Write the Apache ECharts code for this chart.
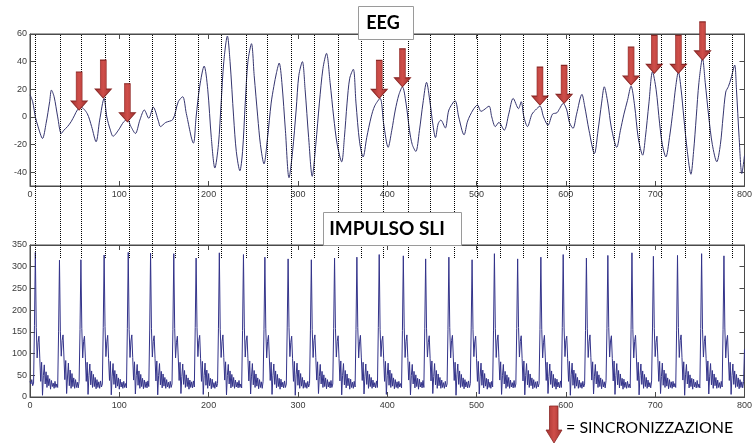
<!DOCTYPE html>
<html><head><meta charset="utf-8">
<script src="https://cdn.jsdelivr.net/npm/echarts@6/dist/echarts.min.js"></script>
<style>html,body{margin:0;padding:0;background:#fff}#c{width:755px;height:444px}</style>
</head><body><div id="c"></div>
<script>
// ---- DATA ----
const xTicks = [0, 100, 200, 300, 400, 500, 600, 700, 800];
const eegTicks = [-40, -20, 0, 20, 40, 60];
const impulseTicks = [0, 50, 100, 150, 200, 250, 300, 350];

// EEG trace [sample, amplitude]
const eegSamples = [[0,16],[3,11],[6,0],[9,-7],[14,-15.6],[18,-4.7],[22,11],[24,19.4],[27,14.6],[31,0],[35,-12],[38,-9.6],[42,-7],[46,-3.5],[50,1.3],[53,5],[57,7],[64,2.5],[69,-7],[74,-18],[78,-2.3],[83,13.4],[86,0],[90,-9.6],[93,-14],[99,-9.6],[105,-3.5],[109,-2],[113,-7],[118,-12],[123,-2.3],[128,5],[133,-1],[138,7],[144,-3.5],[146,-7],[152,-4],[160,-1.8],[166,11],[171,14.6],[175,2.5],[183,-19],[186,0],[190,22],[195,36.8],[199,20],[203,-15],[207,-37],[211,-20],[214,10],[217,40],[221,58.5],[224,40],[228,0],[231,-25],[235,-39],[238,-25],[241,10],[244,40],[248,53],[251,30],[255,0],[258,-20],[262,-34],[266,-15],[270,10],[273,22],[276,32],[279,39],[282,25],[286,-10],[290,-44],[294,-25],[298,5],[301,30],[305,40],[308,20],[312,-15],[316,-43],[320,-20],[324,10],[328,35],[332,46],[336,25],[340,0],[344,-20],[349,-32.5],[352,-15],[355,10],[358,28],[362,34.5],[365,10],[369,-18],[373,-29],[377,-15],[382,0],[386,8],[392,13.4],[396,-5],[401,-22],[405,-10],[409,5],[413,16],[417,21.8],[421,10],[425,-10],[428,-20],[432,-25],[436,-10],[440,10],[444,25],[448,10],[451,-5],[454,-15],[457,-5],[460,-2.3],[465,-8],[469,5],[476,11.7],[480,0],[486,-13],[490,-3],[496,5],[501,8.6],[505,4],[508,5],[514,7.8],[517,0],[521,-7],[525,-4],[531,-9.6],[536,2],[541,13.4],[547,6],[550,11],[553,0],[557,-7],[562,2],[566,5],[571,7.8],[575,0],[580,-6],[585,2],[590,3],[593,6],[597,9.8],[601,5],[604,-4],[608,-8.3],[612,2],[618,16.3],[621,8],[626,-10],[632,-26.5],[636,-10],[640,10],[643,21.8],[647,10],[651,-8],[657,-22],[661,-10],[665,2],[669,12],[673,22.3],[677,8],[681,-15],[686,-27.7],[689,-15],[693,10],[697,32.7],[701,20],[705,-5],[708,-20],[712,-29],[716,-15],[720,5],[723,22],[726,32.7],[729,20],[732,0],[736,-25],[740,-41.5],[743,-25],[746,0],[749,25],[753,42.4],[756,25],[760,0],[764,-20],[769,-32.5],[773,-20],[776,0],[779,18],[782,22],[785,28],[789,37.5],[791,20],[794,-15],[797,-41],[800,-28]];

// synchronisation arrows (tip positions on EEG)
const arrowX = [55, 82, 109, 391, 417, 571, 598, 673, 699, 726, 753];
const arrowY = [5, 13.6, -3.5, 13.4, 21.8, 8.6, 9.8, 23, 31.5, 31.5, 41.2];

// stimulus (SLI) onsets -> dotted lines
const syncX = [6, 33, 57, 83, 110, 135, 161, 186, 212, 239, 263, 289, 315, 341, 366, 391, 418, 443, 469, 495, 520, 546, 572, 597, 623, 647, 674, 698, 725, 752, 777];

// SLI impulse signal, sample by sample (0..800), split by stimulus period
const impulseStart = [36, 30, 40, 26, 32];
const impulsePeriods = [
[165,333,160,90,125,140,88,36,80,4,50,74,30,58,22,50,26,42,18,38,24,32,20,36,22,30,22],
[150,315,150,94,130,143,92,40,84,8,46,78,26,62,20,54,24,44,20,40,22,34,21,36],
[155,316,158,90,128,140,90,36,80,6,50,76,28,60,22,52,24,45,19,40,22,35,20,37,23,30],
[160,327,162,93,127,142,88,38,82,5,48,77,29,61,21,53,25,44,18,41,23,34,20,36,22,31,21],
[158,333,155,91,129,143,91,39,81,7,49,75,27,60,20,52,24,43,19,39,22,35,21,37,24],
[152,331,157,92,128,141,89,37,83,5,50,77,28,59,21,53,25,45,20,40,23,34,20,36,22,30],
[155,330,158,90,126,140,90,38,80,8,47,76,29,61,22,51,24,44,18,39,22,35,21,37,23],
[160,320,160,93,130,142,88,36,82,6,49,78,27,62,20,54,26,43,19,41,22,33,20,36,23,31],
[157,332,156,91,127,143,91,39,81,5,50,75,30,60,21,52,24,45,20,39,23,34,21,38,22,30,21],
[153,328,159,92,129,141,89,37,83,7,48,77,28,61,22,53,25,44,19,40,22,35,20,36],
[156,322,157,90,128,142,90,38,80,6,49,76,29,60,21,52,24,43,18,41,23,34,21,37,22,30],
[159,318,160,93,126,140,88,36,82,4,51,78,27,62,20,54,25,45,20,39,22,33,20,36,23,31],
[154,316,155,91,130,143,91,39,81,8,47,75,30,59,22,51,24,44,19,40,23,35,21,38,22,30],
[158,320,158,92,128,141,89,37,83,5,50,77,28,61,21,53,26,43,18,41,22,34,20,36,23],
[155,322,160,90,127,142,90,38,80,7,48,76,29,60,20,52,24,45,20,39,23,33,21,37,22],
[160,328,156,93,129,140,88,36,82,6,49,78,27,62,22,54,25,44,19,40,22,35,20,36,23,31,21],
[153,325,159,91,128,143,91,39,81,5,50,75,30,59,21,51,24,43,18,41,23,34,21,38,22],
[157,318,157,92,126,141,89,37,83,8,47,77,28,61,20,53,26,45,20,39,22,33,20,36,23,30],
[156,322,160,90,130,142,90,38,80,4,51,76,29,60,22,52,24,44,19,40,23,35,21,37,22,31],
[159,316,155,93,127,140,88,36,82,7,48,78,27,62,21,54,25,43,18,41,22,34,20,36,23],
[154,330,158,91,129,143,91,39,81,6,49,75,30,59,20,51,24,45,20,39,23,33,21,38,22,30],
[158,318,160,92,128,141,89,37,83,5,50,77,28,61,22,53,26,44,19,40,22,35,20,36,23,31],
[155,322,156,90,126,142,90,38,80,8,47,76,29,60,21,52,24,43,18,41,23,34,21,37,22],
[160,328,159,93,130,140,88,36,82,4,51,78,27,62,20,54,25,45,20,39,22,33,20,36,23,30],
[153,320,157,91,127,143,91,39,81,7,48,75,30,59,22,51,24,44,19,40,23,35,21,38],
[157,326,160,92,129,141,89,37,83,6,49,77,28,61,21,53,26,43,18,41,22,34,20,36,22,30,21],
[156,332,155,90,128,142,90,38,80,5,50,76,29,60,20,52,24,45,20,39,23,33,21,37],
[159,324,158,93,126,140,88,36,82,8,47,78,27,62,22,54,25,44,19,40,22,35,20,36,23,31,22],
[154,326,160,91,130,143,91,39,81,4,51,75,30,59,21,51,24,43,18,41,23,34,21,38,22,30,21],
[158,330,156,92,127,141,89,37,83,7,48,77,28,61,20,53,26,45,20,39,22,33,20,36,23],
[155,325,159,90,129,142,90,38,80,6,49,76,29,60,22,52,24,44,19,40,22,35,21,36,110]
];

// ---- BUILD ----
const impulse = impulseStart.concat(...impulsePeriods);
const impulseData = impulse.map((v, i) => [i, v]);
const arrowData = arrowX.map((x, i) => [x, arrowY[i]]);

const AX = '#4a4a4a';
const LBL = {fontFamily: 'Liberation Sans', fontSize: 9, color: '#3a3a3a'};

function xAx(grid, pos, labels) {
  return {type: 'value', gridIndex: grid, position: pos, min: 0, max: 800, interval: 100,
    axisLine: {show: true, onZero: false, lineStyle: {color: AX, width: 1}},
    axisTick: {show: true, inside: true, length: 5, lineStyle: {color: AX}},
    axisLabel: Object.assign({show: labels, margin: 4,
      customValues: xTicks}, LBL),
    splitLine: {show: false}};
}
function yAx(grid, pos, labels, min, max, ticks) {
  return {type: 'value', gridIndex: grid, position: pos, min: min, max: max,
    axisLine: {show: true, onZero: false, lineStyle: {color: AX, width: 1}},
    axisTick: {show: true, inside: true, length: 5, customValues: ticks, lineStyle: {color: AX}},
    axisLabel: Object.assign({show: labels, margin: 3, customValues: ticks}, LBL),
    splitLine: {show: false}};
}

const arrowPath = 'path://M5,0L11,0L11,29L16,29L8,38L0,29L5,29Z';
const arrowFill = new echarts.graphic.LinearGradient(0, 0, 1, 0, [
  {offset: 0, color: '#a2302e'}, {offset: 0.5, color: '#cf4f4a'}, {offset: 1, color: '#a2302e'}]);

const option = {
  backgroundColor: '#ffffff',
  animation: false,
  grid: [
    {left: 30, right: 2, top: 34, height: 152, show: true, borderColor: AX, borderWidth: 1},
    {left: 30, right: 2, top: 245, height: 152, show: true, borderColor: AX, borderWidth: 1},
    {left: 30, right: 2, top: 34, height: 224}
  ],
  xAxis: [
    xAx(0, 'bottom', true), xAx(0, 'top', false),
    xAx(1, 'bottom', true), xAx(1, 'top', false),
    {type: 'value', gridIndex: 2, min: 0, max: 800, show: false}
  ],
  yAxis: [
    yAx(0, 'left', true, -50, 60, eegTicks), yAx(0, 'right', false, -50, 60, eegTicks),
    yAx(1, 'left', true, 0, 350, impulseTicks), yAx(1, 'right', false, 0, 350, impulseTicks),
    {type: 'value', gridIndex: 2, min: 0, max: 1, show: false}
  ],
  series: [
    {type: 'line', xAxisIndex: 4, yAxisIndex: 4, data: [], z: 1,
      markLine: {silent: true, symbol: ['none', 'none'], label: {show: false},
        lineStyle: {color: '#000000', width: 1, type: [1, 1]},
        emphasis: {disabled: true},
        data: syncX.map(x => ({xAxis: x}))}},
    {type: 'line', xAxisIndex: 0, yAxisIndex: 0, data: eegSamples, smooth: 0.3,
      showSymbol: false, z: 3, lineStyle: {color: '#35356f', width: 1}},
    {type: 'line', xAxisIndex: 2, yAxisIndex: 2, data: impulseData, sampling: 'none',
      showSymbol: false, z: 3, lineStyle: {color: '#33338a', width: 1}},
    {type: 'scatter', xAxisIndex: 0, yAxisIndex: 0, data: arrowData, z: 10,
      symbol: arrowPath, symbolSize: [16, 38], symbolOffset: [0, '-50%'],
      itemStyle: {color: arrowFill, borderColor: '#8a2826', borderWidth: 0.8, opacity: 1}}
  ],
  graphic: [
    {type: 'rect', z: 100, shape: {x: 358.5, y: 6.5, width: 55, height: 33},
      style: {fill: '#fff', stroke: '#9a9a9a', lineWidth: 1}},
    {type: 'text', z: 101, x: 383, y: 23,
      style: {text: 'EEG', font: 'bold 18px Lato', fill: '#000', textAlign: 'center', textVerticalAlign: 'middle'}},
    {type: 'rect', z: 100, shape: {x: 323.5, y: 212.5, width: 138, height: 33},
      style: {fill: '#fff', stroke: '#9a9a9a', lineWidth: 1}},
    {type: 'text', z: 101, x: 387, y: 229,
      style: {text: 'IMPULSO SLI', font: 'bold 19px Lato', fill: '#000', textAlign: 'center', textVerticalAlign: 'middle'}},
    {type: 'polygon', z: 100,
      shape: {points: [[549.5, 406], [558, 406], [558, 430], [562, 430], [554, 443], [546, 430], [549.5, 430]]},
      style: {fill: arrowFill, stroke: '#8a2826', lineWidth: 0.8}},
    {type: 'text', z: 101, x: 566, y: 428,
      style: {text: '= SINCRONIZZAZIONE', font: '16px Lato', fill: '#000', textAlign: 'left', textVerticalAlign: 'middle'}}
  ]
};

const chart = echarts.init(document.getElementById('c'));
chart.setOption(option);
</script>
</body></html>
